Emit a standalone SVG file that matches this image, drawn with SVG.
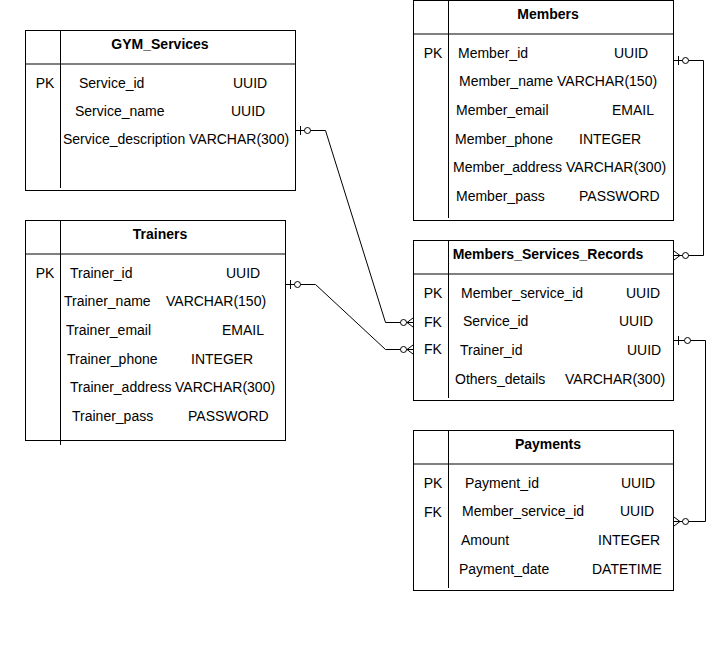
<svg xmlns="http://www.w3.org/2000/svg" width="715" height="651" viewBox="0 0 715 651">
<style>
.box{fill:#fff;stroke:#000;stroke-width:1}
.hd{stroke:#808080;stroke-width:2}
.dv{stroke:#000;stroke-width:1}
text{font-family:"Liberation Sans",Arial,sans-serif;font-size:14px;fill:#000}
.t{font-weight:bold;text-anchor:middle}
.k{text-anchor:middle}
.c{fill:none;stroke:#000;stroke-width:1}
.o{fill:#fff;stroke:#000;stroke-width:1}
</style>
<rect width="715" height="651" fill="#fff"/>
<g id="gym_services">
<rect class="box" x="25.5" y="30.5" width="270" height="160"/>
<line class="hd" x1="26" y1="64" x2="295" y2="64"/>
<line class="dv" x1="60.5" y1="30" x2="60.5" y2="188"/>
<text class="t" x="160" y="49">GYM_Services</text>
<text class="k" x="45" y="88">PK</text>
<text x="79" y="88">Service_id</text><text x="233" y="88">UUID</text>
<text x="75" y="116">Service_name</text><text x="231" y="116">UUID</text>
<text x="63" y="144">Service_description</text><text x="189" y="144">VARCHAR(300)</text>
</g>
<g id="trainers">
<rect class="box" x="25.5" y="220.5" width="260" height="220"/>
<line class="hd" x1="26" y1="254" x2="285" y2="254"/>
<line class="dv" x1="60.5" y1="220" x2="60.5" y2="445"/>
<text class="t" x="160" y="239">Trainers</text>
<text class="k" x="45" y="278">PK</text>
<text x="70" y="278">Trainer_id</text><text x="226" y="278">UUID</text>
<text x="64" y="306">Trainer_name</text><text x="166" y="306">VARCHAR(150)</text>
<text x="66" y="335">Trainer_email</text><text x="222" y="335">EMAIL</text>
<text x="67" y="364">Trainer_phone</text><text x="191" y="364">INTEGER</text>
<text x="70" y="392">Trainer_address</text><text x="175" y="392">VARCHAR(300)</text>
<text x="72" y="421">Trainer_pass</text><text x="188" y="421">PASSWORD</text>
</g>
<g id="members">
<rect class="box" x="413.5" y="0.5" width="260" height="220"/>
<line class="hd" x1="414" y1="34" x2="673" y2="34"/>
<line class="dv" x1="448.5" y1="0" x2="448.5" y2="218"/>
<text class="t" x="548" y="19">Members</text>
<text class="k" x="433" y="58">PK</text>
<text x="458" y="58">Member_id</text><text x="614" y="58">UUID</text>
<text x="459" y="86">Member_name</text><text x="557" y="86">VARCHAR(150)</text>
<text x="456" y="115">Member_email</text><text x="612" y="115">EMAIL</text>
<text x="455" y="144">Member_phone</text><text x="579" y="144">INTEGER</text>
<text x="453" y="172">Member_address</text><text x="566" y="172">VARCHAR(300)</text>
<text x="456" y="201">Member_pass</text><text x="579" y="201">PASSWORD</text>
</g>
<g id="members_services_records">
<rect class="box" x="413.5" y="240.5" width="260" height="160"/>
<line class="hd" x1="414" y1="274" x2="673" y2="274"/>
<line class="dv" x1="448.5" y1="240" x2="448.5" y2="398"/>
<text class="t" x="548" y="259">Members_Services_Records</text>
<text class="k" x="433" y="298">PK</text>
<text x="461" y="298">Member_service_id</text><text x="626" y="298">UUID</text>
<text class="k" x="433" y="327">FK</text>
<text x="463" y="326">Service_id</text><text x="619" y="326">UUID</text>
<text class="k" x="433" y="354">FK</text>
<text x="460" y="355">Trainer_id</text><text x="627" y="355">UUID</text>
<text x="455" y="384">Others_details</text><text x="565" y="384">VARCHAR(300)</text>
</g>
<g id="payments">
<rect class="box" x="413.5" y="430.5" width="260" height="160"/>
<line class="hd" x1="414" y1="464" x2="673" y2="464"/>
<line class="dv" x1="448.5" y1="430" x2="448.5" y2="588"/>
<text class="t" x="548" y="449">Payments</text>
<text class="k" x="433" y="488">PK</text>
<text x="465" y="488">Payment_id</text><text x="621" y="488">UUID</text>
<text class="k" x="433" y="517">FK</text>
<text x="462" y="516">Member_service_id</text><text x="620" y="516">UUID</text>
<text x="461" y="545">Amount</text><text x="598" y="545">INTEGER</text>
<text x="459" y="574">Payment_date</text><text x="592" y="574">DATETIME</text>
</g>
<g id="connectors">
<!-- GYM_Services -> MSR -->
<path class="c" d="M296 130.5 H325.5 L385.5 322.5 H413"/>
<line class="c" x1="300.5" y1="126" x2="300.5" y2="135"/>
<circle class="o" cx="307.5" cy="130.5" r="3"/>
<path class="c" d="M413 318 L407 322.5 L413 327 M407 322.5 H413"/>
<circle class="o" cx="403.5" cy="322.5" r="3"/>
<!-- Trainers -> MSR -->
<path class="c" d="M286 284.5 H315.5 L385.5 349.5 H413"/>
<line class="c" x1="290.5" y1="280" x2="290.5" y2="289"/>
<circle class="o" cx="297.5" cy="284.5" r="3"/>
<path class="c" d="M413 345 L407 349.5 L413 354 M407 349.5 H413"/>
<circle class="o" cx="403.5" cy="349.5" r="3"/>
<!-- Members -> MSR -->
<path class="c" d="M674 60.5 H703.5 V255.5 H674"/>
<line class="c" x1="678.5" y1="56" x2="678.5" y2="65"/>
<circle class="o" cx="685.5" cy="60.5" r="3"/>
<path class="c" d="M674 251 L680 255.5 L674 260 M674 255.5 H680"/>
<circle class="o" cx="685.5" cy="255.5" r="3"/>
<!-- MSR -> Payments -->
<path class="c" d="M674 340.5 H705.5 V521.5 H674"/>
<line class="c" x1="678.5" y1="336" x2="678.5" y2="345"/>
<circle class="o" cx="687.5" cy="340.5" r="3"/>
<path class="c" d="M674 517 L680 521.5 L674 526 M674 521.5 H680"/>
<circle class="o" cx="685.5" cy="521.5" r="3"/>
</g>
</svg>
